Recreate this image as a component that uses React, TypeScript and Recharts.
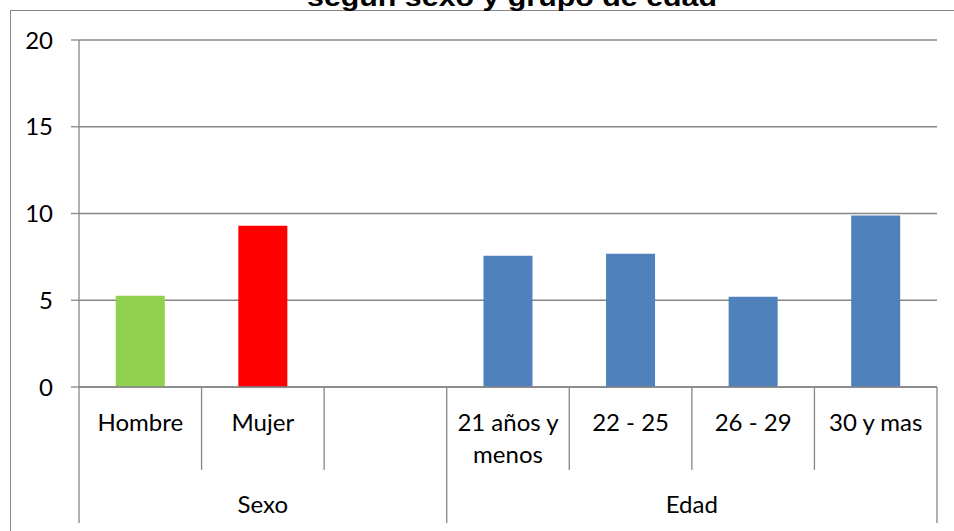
import React from "react";
import { Bar, BarChart, CartesianGrid, Cell, XAxis, YAxis } from "recharts";

const title = "según sexo y grupo de edad";
const categories = ["Hombre", "Mujer", "", "21 años y\nmenos", "22 - 25", "26 - 29", "30 y mas"];
const values = [5.26, 9.3, null, 7.57, 7.68, 5.2, 9.89];
const barColors = ["#92D050", "#FF0000", "#FFFFFF", "#4F81BD", "#4F81BD", "#4F81BD", "#4F81BD"];
const groups = [
  { label: "Sexo", span: 3 },
  { label: "Edad", span: 4 },
];
const yTicks = [0, 5, 10, 15, 20];

const W = 954;
const H = 531;
const FONT = "Lato, 'Open Sans', sans-serif";
const FS = 24;
const LINE = "#868686";

const data = categories.map((name, i) => ({ name, value: values[i] }));

// index of first category in each group
const groupStarts: number[] = [];
let acc = 0;
groups.forEach((g) => {
  groupStarts.push(acc);
  acc += g.span;
});

function CategoryTick(props: any) {
  const { x, y, payload, index } = props;
  const half = payload?.offset ?? 61.3;
  const left = x - half;
  const lines = String(payload.value).split("\n");
  const gi = groupStarts.indexOf(index);
  const isLast = index === categories.length - 1;
  return (
    <g>
      <line x1={left} y1={y} x2={left} y2={y + (gi >= 0 ? 136 : 83)} stroke={LINE} strokeWidth={1.3} />
      {isLast && <line x1={x + half} y1={y} x2={x + half} y2={y + 136} stroke={LINE} strokeWidth={1.3} />}
      <text x={x} y={y + 44} textAnchor="middle" fontFamily={FONT} fontSize={FS} fill="#000">
        {lines.map((l, k) => (
          <tspan key={k} x={x} dy={k === 0 ? 0 : 32}>
            {l}
          </tspan>
        ))}
      </text>
      {gi >= 0 && (
        <text
          x={left + groups[gi].span * half}
          y={y + 126}
          textAnchor="middle"
          fontFamily={FONT}
          fontSize={FS}
          fill="#000"
        >
          {groups[gi].label}
        </text>
      )}
    </g>
  );
}

export default function App() {
  return (
    <div
      style={{ position: "absolute", left: 0, top: 0, width: W, height: H, overflow: "hidden", background: "#fff" }}
    >
      <div
        style={{
          position: "absolute",
          left: 10,
          top: 10,
          width: 1200,
          height: 800,
          border: `1px solid ${LINE}`,
        }}
      />
      <svg width={W} height={20} style={{ position: "absolute", left: 0, top: 0 }}>
        <text
          x={512}
          y={6}
          textAnchor="middle"
          fontFamily="'Liberation Sans', Arial, sans-serif"
          fontWeight="bold"
          fontSize={26}
          textLength={410}
          lengthAdjust="spacingAndGlyphs"
          fill="#000"
        >
          {title}
        </text>
      </svg>
      <div style={{ position: "absolute", left: 0, top: 0 }}>
        <BarChart
          width={W}
          height={H}
          data={data}
          margin={{ top: 40, right: 17, bottom: 0, left: 0 }}
          barCategoryGap="30%"
        >
          <CartesianGrid vertical={false} stroke={LINE} strokeWidth={1.3} />
          <XAxis
            dataKey="name"
            height={144}
            tickSize={0}
            tickMargin={0}
            tickLine={false}
            axisLine={{ stroke: LINE, strokeWidth: 1.3 }}
            interval={0}
            tick={<CategoryTick />}
          />
          <YAxis
            width={79}
            domain={[0, 20]}
            ticks={yTicks}
            tickSize={8}
            tickMargin={18}
            axisLine={{ stroke: LINE, strokeWidth: 1.3 }}
            tickLine={{ stroke: LINE, strokeWidth: 1.3 }}
            tick={{ fill: "#000", fontSize: FS, fontFamily: FONT }}
          />
          <Bar dataKey="value" isAnimationActive={false}>
            {data.map((d, i) => (
              <Cell key={d.name + i} fill={barColors[i]} />
            ))}
          </Bar>
        </BarChart>
      </div>
    </div>
  );
}
